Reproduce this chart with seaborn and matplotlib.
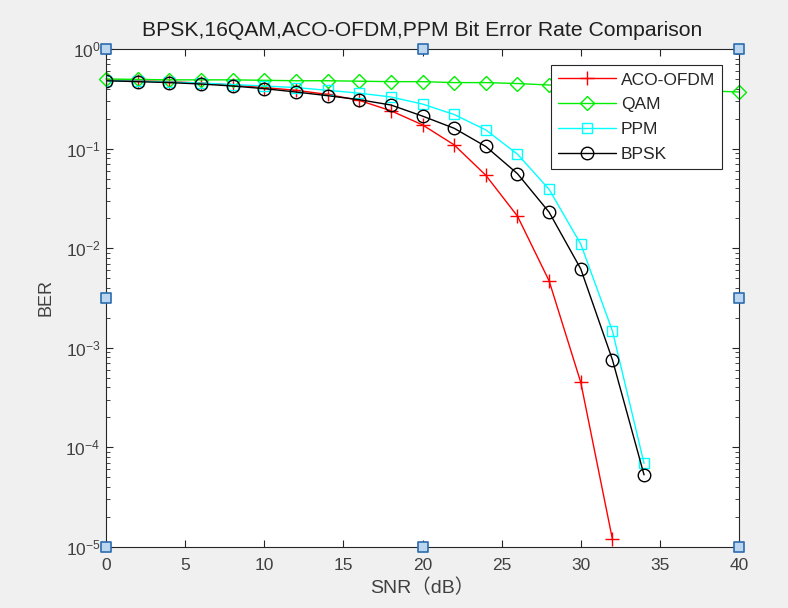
import numpy as np
import pandas as pd
import matplotlib
matplotlib.use("Agg")
import matplotlib.pyplot as plt
import seaborn as sns

snr_full = [0, 2, 4, 6, 8, 10, 12, 14, 16, 18, 20, 22, 24, 26, 28, 30, 32, 34, 36, 38, 40]
aco_ofdm = [0.49, 0.48, 0.47, 0.455, 0.435, 0.41, 0.385, 0.35, 0.305, 0.24, 0.173, 0.109, 0.054, 0.021, 0.0047, 4.5e-4, 1.2e-5]
qam = [0.50, 0.495, 0.49, 0.49, 0.49, 0.485, 0.48, 0.48, 0.475, 0.47, 0.47, 0.46, 0.46, 0.45, 0.435, 0.425, 0.415, 0.40, 0.39, 0.38, 0.37]
ppm = [0.48, 0.475, 0.465, 0.455, 0.44, 0.425, 0.41, 0.385, 0.36, 0.33, 0.28, 0.22, 0.154, 0.088, 0.039, 0.011, 0.00148, 6.9e-5]
bpsk = [0.48, 0.47, 0.46, 0.445, 0.425, 0.40, 0.37, 0.34, 0.31, 0.274, 0.212, 0.16, 0.105, 0.056, 0.023, 0.0062, 7.6e-4, 5.3e-5]

names = ["ACO-OFDM", "QAM", "PPM", "BPSK"]
series = [aco_ofdm, qam, ppm, bpsk]

sns.set_style("ticks")
plt.rcParams['font.family'] = ['Liberation Sans', 'Noto Sans CJK SC', 'DejaVu Sans']
plt.rcParams['mathtext.fontset'] = 'custom'
plt.rcParams['mathtext.rm'] = 'Liberation Sans'
plt.rcParams['mathtext.it'] = 'Liberation Sans'

fig = plt.figure(figsize=(7.88, 6.08), dpi=100, facecolor='#f0f0f0')
ax = fig.add_axes([106/788, 1-547/608, (739-106)/788, (547-49)/608])
ax.set_facecolor('white')

styles = {
    "ACO-OFDM": dict(color='#ff0000', marker='+', ms=10, mew=1.0),
    "QAM": dict(color='#00ee00', marker='D', ms=7.5, mew=1.0),
    "PPM": dict(color='#00ffff', marker='s', ms=7, mew=1.0),
    "BPSK": dict(color='#000000', marker='o', ms=9, mew=1.0),
}

for name, vals in zip(names, series):
    df = pd.DataFrame({"SNR": snr_full[:len(vals)], "BER": vals})
    st = styles[name]
    sns.lineplot(data=df, x="SNR", y="BER", ax=ax, color=st['color'], lw=1.0,
                 marker=st['marker'], markersize=st['ms'], markeredgewidth=st['mew'],
                 markerfacecolor='none', markeredgecolor=st['color'], label=name,
                 clip_on=False if name == "QAM" else True)

ax.set_yscale('log')
ax.set_xlim(0, 40)
ax.set_ylim(1e-5, 1)
ax.set_xticks(np.arange(0, 41, 5))
ax.set_yticks([1e-5, 1e-4, 1e-3, 1e-2, 1e-1, 1])
ax.yaxis.set_minor_locator(matplotlib.ticker.LogLocator(base=10, subs=np.arange(2, 10), numticks=20))
ax.yaxis.set_minor_formatter(matplotlib.ticker.NullFormatter())

for s in ax.spines.values():
    s.set_color('#262626')
    s.set_linewidth(0.8)
ax.tick_params(which='both', direction='in', top=True, right=True, colors='#262626', labelsize=12.5, labelcolor='#404040')
ax.tick_params(which='major', length=5, width=0.8)
ax.tick_params(which='minor', length=3, width=0.6)
ax.tick_params(axis='x', which='major', pad=8)
ax.tick_params(axis='y', which='major', pad=4)

ax.set_title("BPSK,16QAM,ACO-OFDM,PPM Bit Error Rate Comparison", fontsize=15.2, color='#202020', pad=9)
ax.set_xlabel("SNR（dB）", fontsize=14, color='#404040', labelpad=4)
ax.set_ylabel("BER", fontsize=13, color='#404040', labelpad=8)

leg = ax.legend(loc='upper right', bbox_to_anchor=(0.973, 0.967), fontsize=12.5, frameon=True, fancybox=False,
                framealpha=1, edgecolor='#262626', handlelength=3.3, borderpad=0.4, labelspacing=0.55,
                handletextpad=0.3, borderaxespad=0)
leg.get_frame().set_linewidth(0.8)
leg.set_zorder(20)

# selection handles
hx = [0, 0.5, 1, 0, 1, 0, 0.5, 1]
hy = [1, 1, 1, 0.5, 0.5, 0, 0, 0]
ax.scatter(hx, hy, transform=ax.transAxes, marker='s', s=50, facecolor='#bcd6f0',
           edgecolor='#2c6db0', linewidth=1.2, clip_on=False, zorder=30)

fig.savefig("out.png", dpi=100, facecolor=fig.get_facecolor())
